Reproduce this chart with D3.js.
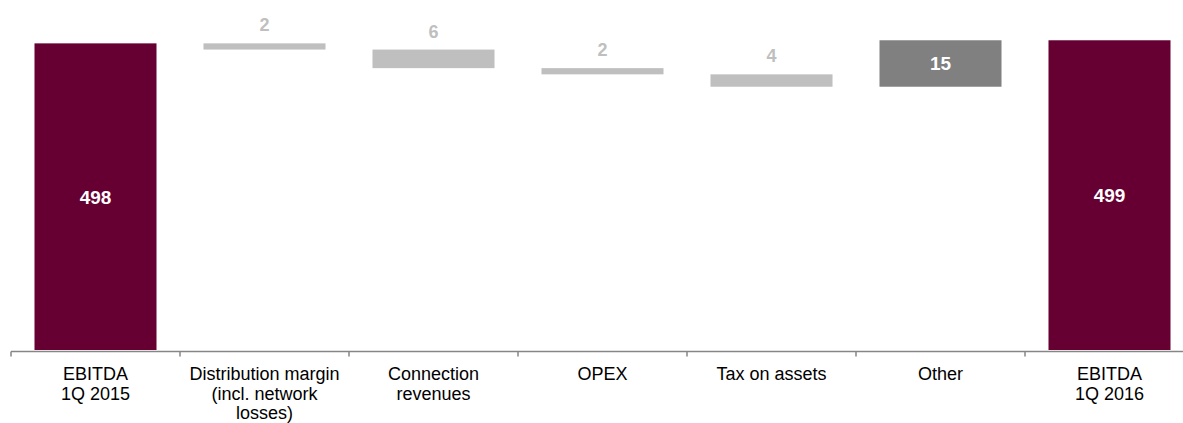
<!DOCTYPE html>
<html>
<head>
<meta charset="utf-8">
<script src="https://cdn.jsdelivr.net/npm/d3@7/dist/d3.min.js"></script>
<style>
  html, body { margin: 0; padding: 0; background: #fff; }
  svg { display: block; font-family: "Liberation Sans", Arial, sans-serif; }
</style>
</head>
<body>
<svg id="chart" width="1183" height="423"></svg>
<script>
// EBITDA bridge, 1Q 2015 -> 1Q 2016
const categories = [
  "EBITDA\n1Q 2015",
  "Distribution margin\n(incl. network\nlosses)",
  "Connection\nrevenues",
  "OPEX",
  "Tax on assets",
  "Other",
  "EBITDA\n1Q 2016"
];
const values = [498, -2, -6, -2, -4, 15, 499];
const kinds = ["total", "delta", "delta", "delta", "delta", "delta", "total"];

const colors = { total: "#660033", down: "#BFBFBF", up: "#808080" };

// running start/end for every step of the bridge
let running = 0;
const steps = categories.map((c, i) => {
  let start, end;
  if (kinds[i] === "total") { start = 0; end = values[i]; running = values[i]; }
  else { start = running; end = running + values[i]; running = end; }
  const type = kinds[i] === "total" ? "total" : (values[i] < 0 ? "down" : "up");
  return { cat: c, value: values[i], start, end, type };
});

const svg = d3.select("#chart");
const axisY = 351.5;

const x = d3.scaleBand()
  .domain(categories)
  .range([11, 1194])
  .paddingInner(0.278)
  .paddingOuter(0.139);

// value axis is cut at 399 so the small movements stay readable
const y = d3.scaleLinear().domain([399, 512]).range([350, 0]);
const yv = v => Math.min(350, y(Math.max(v, 399)));

const g = svg.append("g");

g.selectAll("rect.bar")
  .data(steps)
  .join("rect")
  .attr("class", "bar")
  .attr("x", d => x(d.cat))
  .attr("width", x.bandwidth())
  .attr("y", d => yv(Math.max(d.start, d.end)))
  .attr("height", d => yv(Math.min(d.start, d.end)) - yv(Math.max(d.start, d.end)))
  .attr("fill", d => colors[d.type]);

// value labels: white inside totals and gains, grey above losses
g.selectAll("text.val")
  .data(steps)
  .join("text")
  .attr("class", "val")
  .attr("x", d => x(d.cat) + x.bandwidth() / 2)
  .attr("y", d => {
    const top = yv(Math.max(d.start, d.end));
    const bot = yv(Math.min(d.start, d.end));
    return d.type === "down" ? top - 12 : (top + bot) / 2;
  })
  .attr("dy", d => d.type === "down" ? 0 : "0.36em")
  .attr("text-anchor", "middle")
  .attr("font-weight", "bold")
  .attr("font-size", d => d.type === "down" ? 18 : 19)
  .attr("fill", d => d.type === "down" ? "#BFBFBF" : "#FFFFFF")
  .text(d => Math.abs(d.value));

// category axis
const axis = svg.append("g").attr("transform", `translate(0,${axisY})`);
axis.append("line")
  .attr("x1", 11).attr("x2", 1183)
  .attr("stroke", "#868686").attr("stroke-width", 1.5);
axis.selectAll("line.tick")
  .data(categories)
  .join("line")
  .attr("class", "tick")
  .attr("x1", d => x(d) - x.step() * x.paddingInner() / 2)
  .attr("x2", d => x(d) - x.step() * x.paddingInner() / 2)
  .attr("y1", 0).attr("y2", 5)
  .attr("stroke", "#868686").attr("stroke-width", 1.5);

const labels = svg.selectAll("text.cat")
  .data(categories)
  .join("text")
  .attr("class", "cat")
  .attr("text-anchor", "middle")
  .attr("font-size", 18)
  .attr("fill", "#000");
labels.each(function(d) {
  const t = d3.select(this);
  d.split("\n").forEach((line, i) => {
    t.append("tspan")
      .attr("x", x(d) + x.bandwidth() / 2)
      .attr("y", 380 + i * 19.5)
      .text(line);
  });
});
</script>
</body>
</html>
